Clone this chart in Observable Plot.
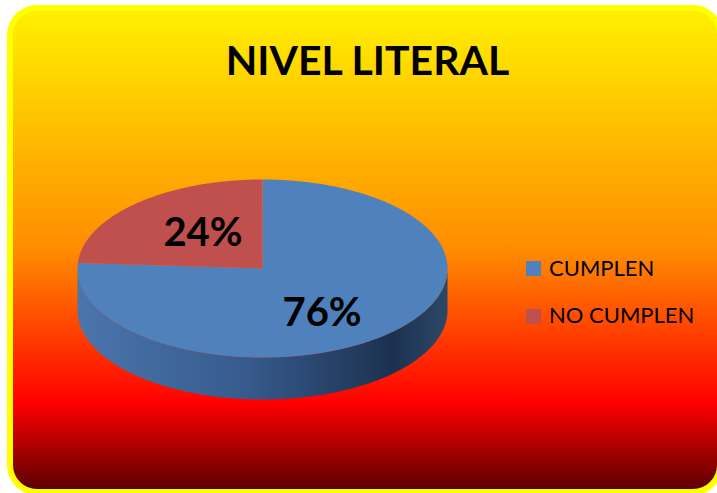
<!DOCTYPE html>
<html>
<head>
<meta charset="utf-8">
<script src="https://cdn.jsdelivr.net/npm/d3@7"></script>
<script src="https://cdn.jsdelivr.net/npm/@observablehq/plot@0.6"></script>
<style>
  html, body { margin: 0; padding: 0; background: #ffffff; width: 717px; height: 493px; overflow: hidden; }
  #card {
    position: absolute; left: 7px; top: 5px; width: 716px; height: 490px;
    box-sizing: border-box; border: 6px solid #ffff00; border-radius: 30px;
    background: linear-gradient(to bottom, #fff000 0%, #ff8c00 50%, #ff0000 82%, #5c0000 100%);
  }
  #chart { position: absolute; left: 0; top: 0; }
  #title {
    position: absolute; left: 0; width: 735px; top: 38.6px; text-align: center;
    font-family: Lato, sans-serif; font-weight: bold; font-size: 41px; line-height: 1; color: #000;
  }
  .leg { position: absolute; left: 526px; font-family: Lato, sans-serif; font-size: 22px; line-height: 1; color: #000; white-space: nowrap; }
  .leg .sw { position: absolute; left: 0; width: 15px; height: 15px; }
  .leg .tx { position: absolute; left: 23px; top: 0; }
</style>
</head>
<body>
<div id="card"></div>
<div id="chart"></div>
<div id="title"></div>
<div id="legend"></div>
<script>
// ---- data ----
const title = "NIVEL LITERAL";
const categories = ["CUMPLEN", "NO CUMPLEN"];
const values = [76, 24];
const labels = ["76%", "24%"];
const colors = ["#4f81bd", "#c0504d"];

// ---- geometry helpers (unit ellipse, y up) ----
const depth = 0.472;            // pie thickness in y units
const pie = d3.pie().sort(null)(values);   // clockwise from 12 o'clock
const step = Math.PI / 360;

function arcPoints(a0, a1, yOff = 0) {
  const pts = [];
  const n = Math.max(2, Math.ceil((a1 - a0) / step));
  for (let i = 0; i <= n; i++) {
    const a = a0 + (a1 - a0) * i / n;
    pts.push({x: Math.sin(a), y: Math.cos(a) + yOff});
  }
  return pts;
}

// top faces
const faces = pie.map((p, i) => {
  const pts = [{x: 0, y: 0}, ...arcPoints(p.startAngle, p.endAngle), {x: 0, y: 0}];
  return pts.map(d => ({...d, cat: categories[i]}));
});

// front side (visible where the rim faces the viewer: angles PI/2 .. 3PI/2)
const sides = [];
pie.forEach((p, i) => {
  const a0 = Math.max(p.startAngle, Math.PI / 2);
  const a1 = Math.min(p.endAngle, 3 * Math.PI / 2);
  if (a1 > a0) {
    const top = arcPoints(a0, a1, 0);
    const bottom = arcPoints(a0, a1, -depth).reverse();
    sides.push({cat: categories[i], pts: [...top, ...bottom]});
  }
});

// label anchors at mid-angle
const labelData = pie.map((p, i) => {
  const m = (p.startAngle + p.endAngle) / 2;
  return {x: 0.47 * Math.sin(m), y: 0.47 * Math.cos(m), text: labels[i], cat: categories[i]};
});

const marks = [];
sides.forEach(s => {
  marks.push(Plot.line(s.pts, {x: "x", y: "y", fill: "url(#sideGrad)", stroke: "none", curve: "linear"}));
});
faces.forEach((f, i) => {
  marks.push(Plot.line(f, {x: "x", y: "y", fill: colors[i], stroke: "none", curve: "linear"}));
});
marks.push(Plot.text(labelData.filter(d => d.cat === "NO CUMPLEN"), {
  x: "x", y: "y", text: "text", dy: -5, fontSize: 40, fontWeight: "bold", fontFamily: "Lato, sans-serif", fill: "#000"
}));
marks.push(Plot.text(labelData.filter(d => d.cat === "CUMPLEN"), {
  x: "x", y: "y", text: "text", dy: 14, fontSize: 40, fontWeight: "bold", fontFamily: "Lato, sans-serif", fill: "#000"
}));

// scales: ellipse centre at (262, 268) px, rx 185, ry 89
const W = 717, H = 493, cx = 262, cy = 268, rx = 185, ry = 89;
const chart = Plot.plot({
  width: W, height: H,
  margin: 0,
  x: {domain: [(0 - cx) / rx, (W - cx) / rx], axis: null},
  y: {domain: [-(H - cy) / ry, cy / ry], axis: null},
  style: {background: "transparent", overflow: "visible"},
  marks
});
chart.insertAdjacentHTML("afterbegin",
  `<defs><linearGradient id="sideGrad" x1="0" y1="0" x2="1" y2="0">
     <stop offset="0%" stop-color="#4a75ad"/>
     <stop offset="45%" stop-color="#375b8d"/>
     <stop offset="85%" stop-color="#1c3150"/>
     <stop offset="100%" stop-color="#2c4868"/>
   </linearGradient></defs>`);
document.getElementById("chart").appendChild(chart);

document.getElementById("title").textContent = title;
const legend = document.getElementById("legend");
const legTops = [256.5, 303.5];
const swTops = [4.5, 5.5];
categories.forEach((c, i) => {
  const row = document.createElement("div");
  row.className = "leg";
  row.style.top = legTops[i] + "px";
  const sw = document.createElement("div");
  sw.className = "sw"; sw.style.background = colors[i]; sw.style.top = swTops[i] + "px";
  const tx = document.createElement("div");
  tx.className = "tx"; tx.textContent = c;
  row.appendChild(sw); row.appendChild(tx);
  legend.appendChild(row);
});
</script>
</body>
</html>
